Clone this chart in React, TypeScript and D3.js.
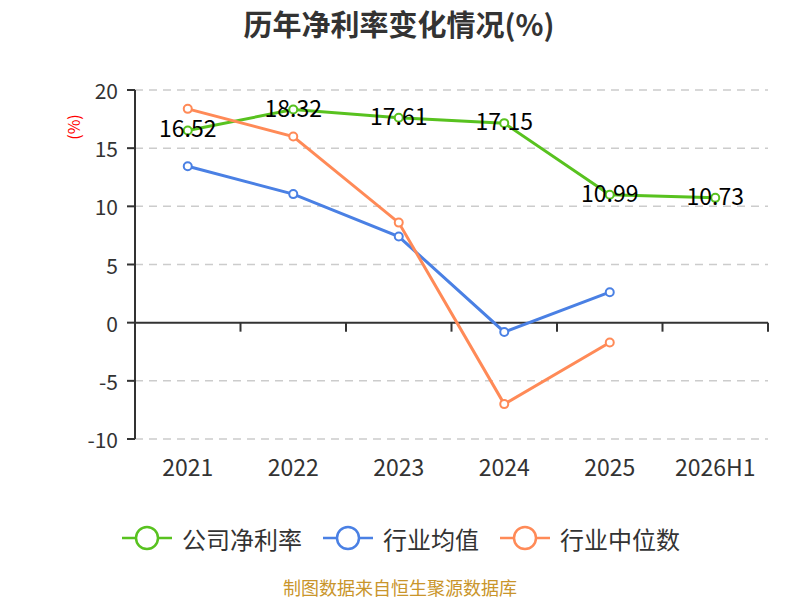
import React from "react";
import * as d3 from "d3";

const categories = ["2021", "2022", "2023", "2024", "2025", "2026H1"];
const companyRate: (number | null)[] = [16.52, 18.32, 17.61, 17.15, 10.99, 10.73];
const industryAvg: (number | null)[] = [13.44, 11.05, 7.4, -0.8, 2.62, null];
const industryMedian: (number | null)[] = [18.38, 16.0, 8.6, -7.0, -1.71, null];
const yTicks = [-10, -5, 0, 5, 10, 15, 20];

const seriesList = [
  { name: "公司净利率", values: companyRate, color: "#58c21f", labels: true },
  { name: "行业均值", values: industryAvg, color: "#4a80e4", labels: false },
  { name: "行业中位数", values: industryMedian, color: "#ff8a57", labels: false },
];

const width = 800;
const height = 600;
const margin = { top: 90, right: 32, bottom: 161, left: 135 };
const font = "'Noto Sans CJK SC', 'Noto Sans', sans-serif";

const App: React.FC = () => {
  const x = d3
    .scaleBand()
    .domain(categories)
    .range([margin.left, width - margin.right])
    .padding(0);

  const y = d3
    .scaleLinear()
    .domain([-10, 20])
    .range([height - margin.bottom, margin.top]);

  const cx = (c: string) => (x(c) ?? 0) + x.bandwidth() / 2;

  const line = d3
    .line<number | null>()
    .defined((d) => d !== null)
    .x((_, i) => cx(categories[i]))
    .y((d) => y(d as number));

  const boundaries = categories.map((c) => x(c) ?? 0).concat([width - margin.right]);

  // legend layout
  const iconW = 50;
  const textSize = 24;
  const itemGap = 21;
  const itemWidths = seriesList.map((s) => iconW + 10 + s.name.length * textSize);
  const legendTotal = itemWidths.reduce((a, b) => a + b, 0) + itemGap * (seriesList.length - 1);
  let legendX = 401 - legendTotal / 2;
  const legendY = 538;

  return (
    <svg
      width={width}
      height={height}
      style={{ position: "absolute", left: 0, top: 0, background: "#fff" }}
      fontFamily={font}
    >
      <text x={399} y={23} textAnchor="middle" dominantBaseline="central" fontSize={29} fontWeight="bold" fill="#333">
        历年净利率变化情况(%)
      </text>

      {/* grid */}
      {yTicks
        .filter((t) => t !== 0)
        .map((t) => (
          <line
            key={t}
            x1={margin.left}
            x2={width - margin.right}
            y1={y(t)}
            y2={y(t)}
            stroke="#cccccc"
            strokeWidth={1.5}
            strokeDasharray="8,6"
          />
        ))}

      {/* y axis */}
      <line x1={margin.left} x2={margin.left} y1={y(20)} y2={y(-10)} stroke="#333" strokeWidth={2} />
      {yTicks.map((t) => (
        <g key={t}>
          <line x1={margin.left - 8} x2={margin.left} y1={y(t)} y2={y(t)} stroke="#333" strokeWidth={2} />
          <text
            x={margin.left - 17}
            y={y(t)}
            textAnchor="end"
            dominantBaseline="central"
            fontSize={21}
            fill="#333"
          >
            {t}
          </text>
        </g>
      ))}
      <text
        transform={`translate(73,${127}) rotate(-90)`}
        textAnchor="middle"
        dominantBaseline="central"
        fontSize={16}
        fill="#ff0000"
      >
        (%)
      </text>

      {/* x axis at zero */}
      <line x1={margin.left} x2={width - margin.right} y1={y(0)} y2={y(0)} stroke="#333" strokeWidth={2} />
      {boundaries.map((b, i) => (
        <line key={i} x1={b} x2={b} y1={y(0)} y2={y(0) + 9} stroke="#333" strokeWidth={2} />
      ))}
      {categories.map((c) => (
        <text key={c} x={cx(c)} y={466} textAnchor="middle" dominantBaseline="central" fontSize={23} fill="#333">
          {c}
        </text>
      ))}

      {/* lines */}
      {seriesList.map((s) => (
        <path key={s.name} d={line(s.values) ?? ""} fill="none" stroke={s.color} strokeWidth={3} />
      ))}
      {seriesList.map((s) =>
        s.values.map((v, i) =>
          v === null ? null : (
            <circle
              key={s.name + i}
              cx={cx(categories[i])}
              cy={y(v)}
              r={4}
              fill="#fff"
              stroke={s.color}
              strokeWidth={2}
            />
          )
        )
      )}
      {seriesList
        .filter((s) => s.labels)
        .map((s) =>
          s.values.map((v, i) =>
            v === null ? null : (
              <text
                key={"l" + s.name + i}
                x={cx(categories[i])}
                y={y(v) - 3}
                textAnchor="middle"
                dominantBaseline="central"
                fontSize={23}
                fill="#000"
              >
                {v.toFixed(2)}
              </text>
            )
          )
        )}

      {/* legend */}
      {seriesList.map((s, i) => {
        const x0 = legendX;
        legendX += itemWidths[i] + itemGap;
        return (
          <g key={s.name}>
            <line x1={x0} x2={x0 + iconW} y1={legendY} y2={legendY} stroke={s.color} strokeWidth={2.5} />
            <circle cx={x0 + iconW / 2} cy={legendY} r={11} fill="#fff" stroke={s.color} strokeWidth={2.5} />
            <text x={x0 + iconW + 10} y={legendY} dominantBaseline="central" fontSize={textSize} fill="#333">
              {s.name}
            </text>
          </g>
        );
      })}

      <text x={400} y={587} textAnchor="middle" dominantBaseline="central" fontSize={18} fill="#c9952b">
        制图数据来自恒生聚源数据库
      </text>
    </svg>
  );
};

export default App;
